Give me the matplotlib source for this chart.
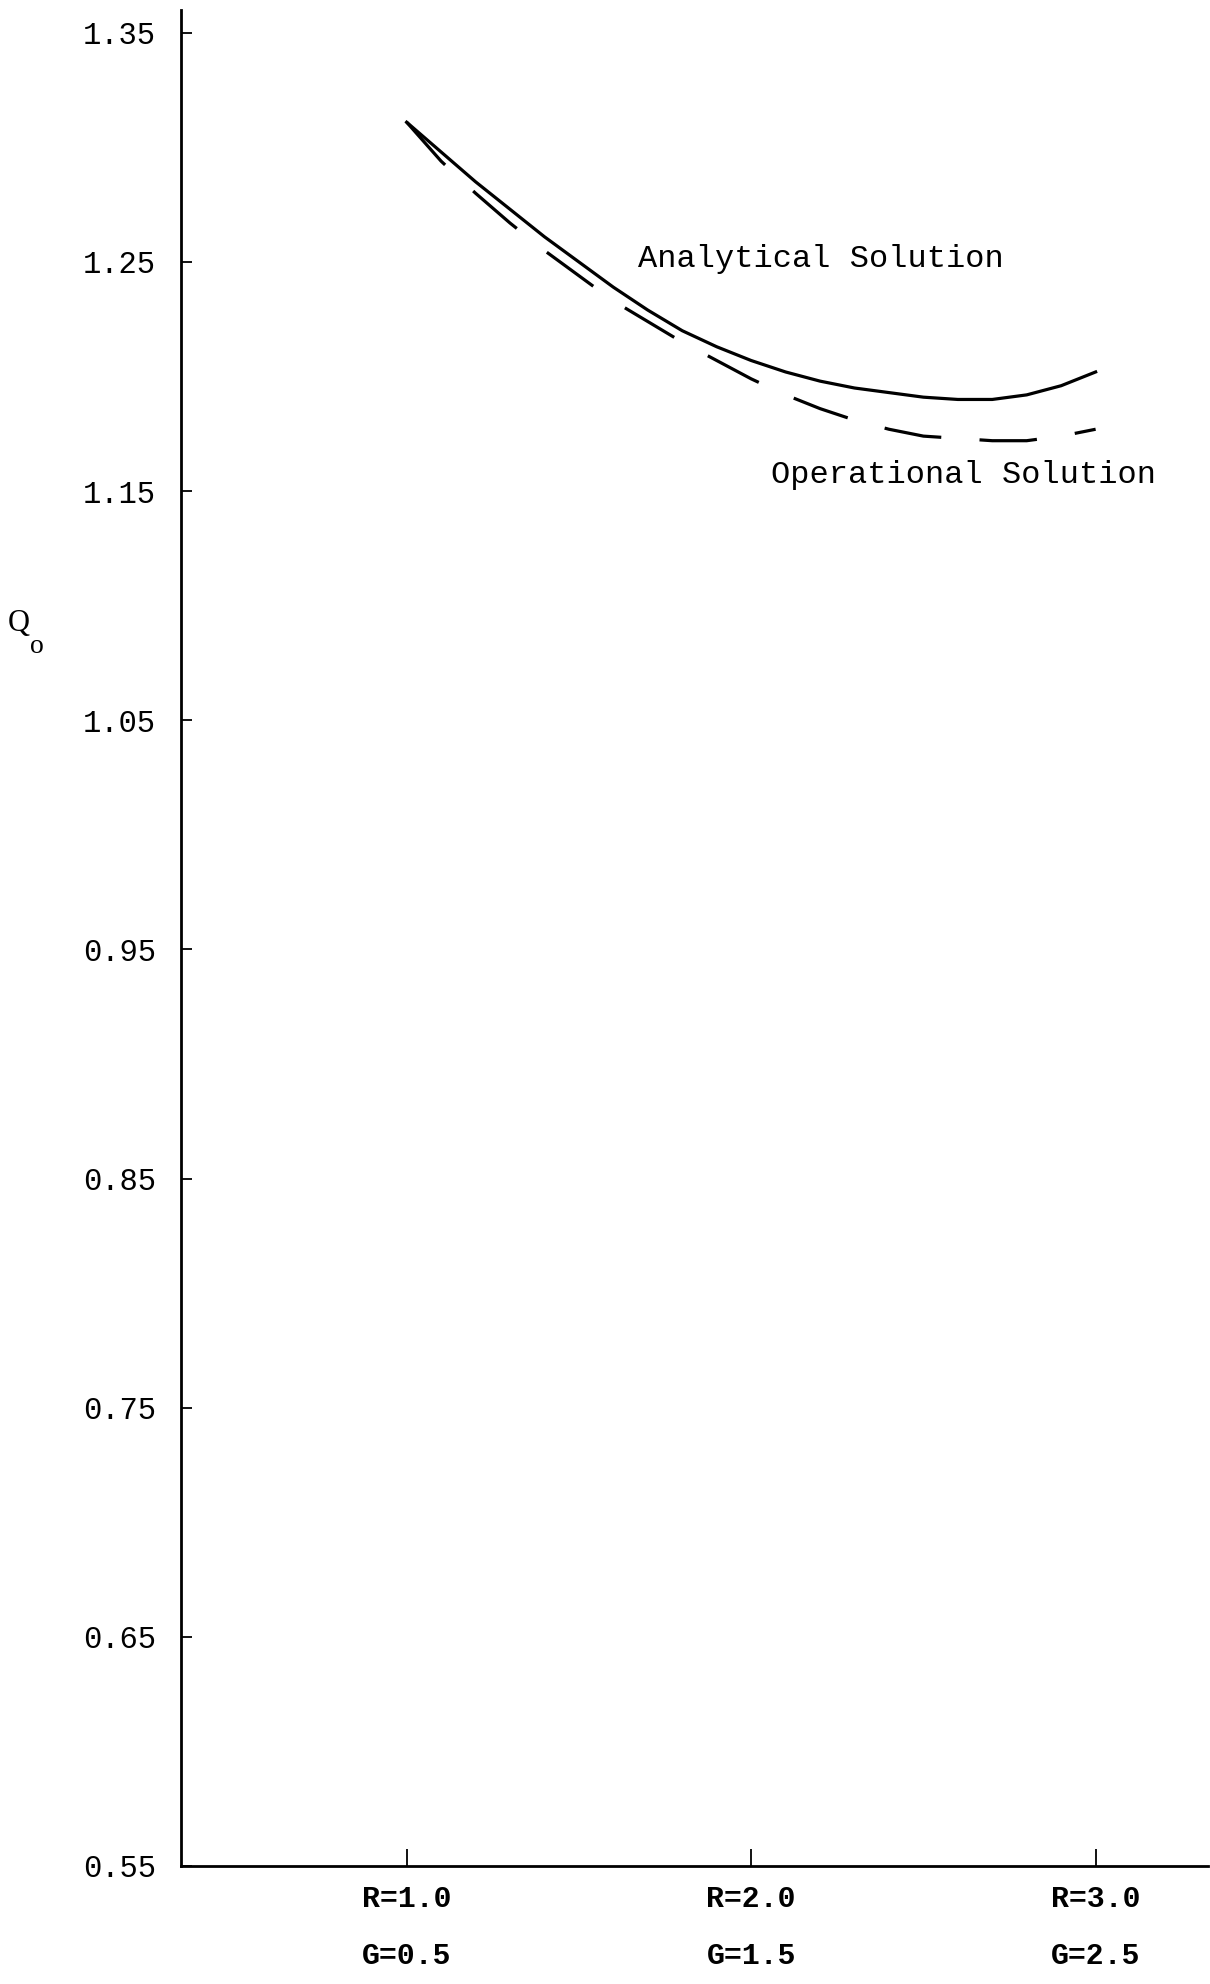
import matplotlib.pyplot as plt

# 數據：R/G 組合與 Qo 值
x_pos = [1.0, 2.0, 3.0]
x_labels = ['R=1.0\nG=0.5', 'R=2.0\nG=1.5', 'R=3.0\nG=2.5']
y_ticks = [0.55, 0.65, 0.75, 0.85, 0.95, 1.05, 1.15, 1.25, 1.35]

x_ana = [1.0, 1.1, 1.2, 1.3, 1.4, 1.5, 1.6, 1.7, 1.8, 1.9, 2.0,
         2.1, 2.2, 2.3, 2.4, 2.5, 2.6, 2.7, 2.8, 2.9, 3.0]
q_ana = [1.311, 1.298, 1.285, 1.273, 1.261, 1.250, 1.239, 1.229, 1.220, 1.213, 1.207,
         1.202, 1.198, 1.195, 1.193, 1.191, 1.190, 1.190, 1.192, 1.196, 1.202]

x_op = [1.0, 1.1, 1.2, 1.3, 1.4, 1.5, 1.6, 1.7, 1.8, 1.9, 2.0,
        2.1, 2.2, 2.3, 2.4, 2.5, 2.6, 2.7, 2.8, 2.9, 3.0]
q_op = [1.311, 1.294, 1.280, 1.267, 1.255, 1.244, 1.233, 1.224, 1.215, 1.207, 1.199,
        1.192, 1.186, 1.181, 1.177, 1.174, 1.173, 1.172, 1.172, 1.174, 1.177]

mono = 'Liberation Mono'
serif = 'Liberation Serif'

fig = plt.figure(figsize=(12.1, 19.84), dpi=100)
ax = fig.add_axes([0.1496, 0.0595, 0.8484, 0.9355])

ax.plot(x_ana, q_ana, color='black', lw=2.3)
ax.plot(x_op, q_op, color='black', lw=2.3, dashes=(18, 12))

ax.text(1.672, 1.2513, 'Analytical Solution', family=mono, fontsize=23,
        va='center', ha='left')
ax.text(2.058, 1.157, 'Operational Solution', family=mono, fontsize=23,
        va='center', ha='left')

ax.set_xlim(0.345, 3.325)
ax.set_ylim(0.55, 1.36)

ax.set_xticks(x_pos)
ax.set_xticklabels(x_labels, family=mono, fontsize=21.5, fontweight='bold',
                   linespacing=2.3)
ax.set_yticks(y_ticks)
ax.set_yticklabels(['%.2f' % v for v in y_ticks], family=mono, fontsize=22)

ax.tick_params(axis='x', direction='in', length=12, width=1.3, pad=14)
ax.tick_params(axis='y', direction='in', length=8, width=1.3, pad=18)

for s in ['top', 'right']:
    ax.spines[s].set_visible(False)
for s in ['left', 'bottom']:
    ax.spines[s].set_linewidth(2.0)

# 縱軸標題 Qo
fig.text(8 / 1210, 1 - 624 / 1984, 'Q', family=serif, fontsize=22,
         ha='left', va='center')
fig.text(30 / 1210, 1 - 646 / 1984, 'o', family=serif, fontsize=20,
         ha='left', va='center')

fig.savefig('out.png', dpi=100)
